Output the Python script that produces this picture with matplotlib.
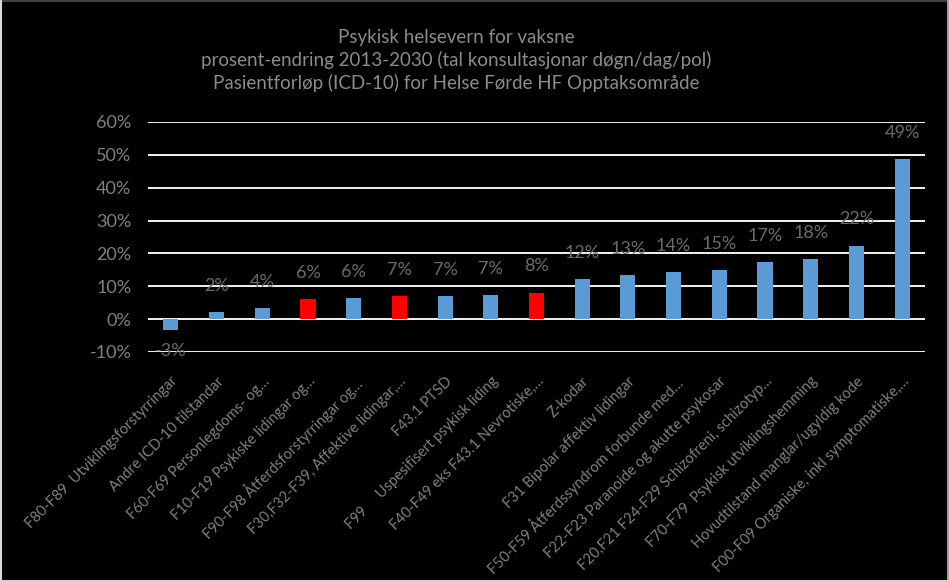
import numpy as np
import matplotlib.pyplot as plt
from matplotlib.lines import Line2D
from matplotlib.ticker import FuncFormatter

# categories (as they read on the x axis, truncated like the original)
categories = [
    "F80-F89  Utviklingsforstyrringar",
    "Andre ICD-10 tilstandar",
    "F60-F69 Personlegdoms- og\u2026",
    "F10-F19 Psykiske lidingar og\u2026",
    "F90-F98 \u00c5tferdsforstyrringar og\u2026",
    "F30,F32-F39, Affektive lidingar,\u2026",
    "F43.1 PTSD",
    "F99     Uspesifisert psykisk liding",
    "F40-F49 eks F43.1 Nevrotiske,\u2026",
    "Z-kodar",
    "F31 Bipolar affektiv lidingar",
    "F50-F59 \u00c5tferdssyndrom forbunde med\u2026",
    "F22-F23 Paranoide og akutte psykosar",
    "F20,F21 F24-F29 Schizofreni, schizotyp\u2026",
    "F70-F79  Psykisk utviklingshemming",
    "Hovudtilstand manglar/ugyldig kode",
    "F00-F09 Organiske, inkl symptomatiske,\u2026",
]
# percent change 2013-2030
change = [-3.4, 2.3, 3.5, 6.1, 6.4, 7.1, 7.0, 7.2, 8.1,
          12.2, 13.4, 14.4, 15.0, 17.4, 18.4, 22.4, 48.8]
# highlighted bars drawn in red
highlight = [3, 5, 8]

W, H = 949, 582
plt.rcParams['font.family'] = ['Lato', 'DejaVu Sans']
fig = plt.figure(figsize=(W / 100, H / 100), dpi=100, facecolor='black')
ax = fig.add_axes([148 / W, 1 - 352 / H, (925 - 148) / W, (352 - 122) / H])
ax.set_facecolor('black')

x = np.arange(len(change))
colors = ['#ff0000' if i in highlight else '#5b9bd5' for i in x]
ax.bar(x, np.array(change) / 100, width=0.33, color=colors, zorder=3)

ax.set_xlim(-0.5, len(change) - 0.5)
ax.set_ylim(-0.1, 0.6)
ax.set_yticks(np.arange(-0.1, 0.61, 0.1))
ax.yaxis.set_major_formatter(FuncFormatter(lambda v, p: f"{v*100:.0f}%"))
ax.grid(axis='y', color='#f2f2f2', linewidth=1.4, zorder=1)
for s in ax.spines.values():
    s.set_visible(False)
ax.tick_params(axis='y', length=0, pad=12, labelsize=13, labelcolor='#808080')
ax.tick_params(axis='x', length=0, pad=16)
ax.set_xticks(x)
ax.set_xticklabels(categories, rotation=45, ha='right', rotation_mode='anchor',
                   fontsize=10.5, color='#808080')

# data labels
for i, v in zip(x, change):
    if v >= 0:
        ax.annotate(f"{v:.0f}%", (i, v / 100), xytext=(0, 13), textcoords='offset points',
                    ha='center', va='bottom', fontsize=13, color='#6b6b6b', zorder=4)
    else:
        ax.annotate(f"{int(v)}%", (i, v / 100), xytext=(0, -9), textcoords='offset points',
                    ha='center', va='top', fontsize=13, color='#6b6b6b', zorder=4)

title = ["Psykisk helsevern for vaksne",
         "prosent-endring 2013-2030 (tal konsultasjonar d\u00f8gn/dag/pol)",
         "Pasientforl\u00f8p (ICD-10) for Helse F\u00f8rde HF Opptaksomr\u00e5de"]
for k, line in enumerate(title):
    fig.text(456 / W, 1 - (37 + 23 * k) / H, line, ha='center', va='center',
             fontsize=13.5, color='#8c8c8c')

# thin frame round the picture
fig.add_artist(Line2D([0, 1], [0.998, 0.998], color='#404040', lw=1.5))
fig.add_artist(Line2D([0.001, 0.001], [0, 1], color='#d9d9d9', lw=1.5))
fig.add_artist(Line2D([0.999, 0.999], [0, 1], color='#a0a0a0', lw=1.5))
fig.add_artist(Line2D([0, 1], [0.002, 0.002], color='#d0d0d0', lw=1.5))

fig.savefig('out.png', dpi=100, facecolor='black')
